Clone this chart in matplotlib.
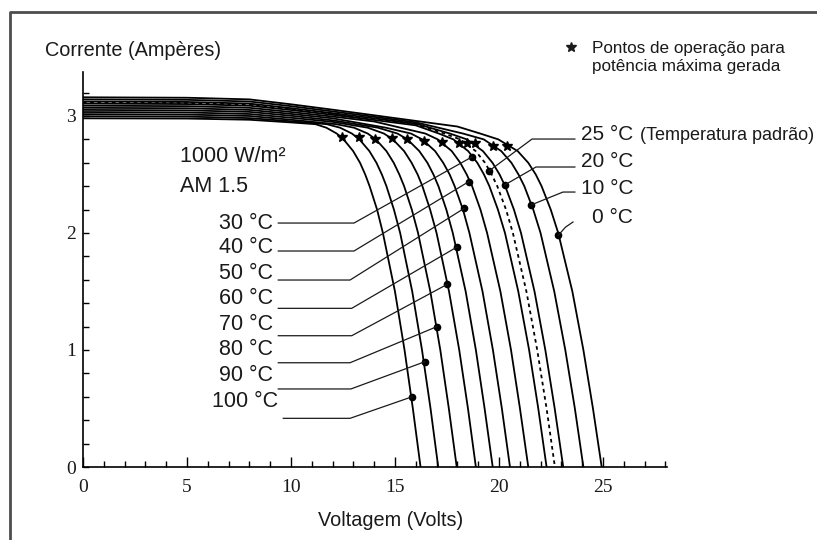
import numpy as np
import matplotlib
matplotlib.use('Agg')
import matplotlib.pyplot as plt
from matplotlib.lines import Line2D

nan = np.nan

''' Data read from the chart '''
temps = [100, 90, 80, 70, 60, 50, 40, 30, 25, 20, 10, 0]

# upper (almost flat) part of each curve: current [A] at these voltages
top_volts = [0, 5, 8, 10, 12, 14, 16, 18]
amps_100 = [2.980, 2.978, 2.968, 2.945, nan, nan, nan, nan]
amps_90 = [2.998, 2.995, 2.982, 2.955, nan, nan, nan, nan]
amps_80 = [3.016, 3.012, 3.000, 2.968, nan, nan, nan, nan]
amps_70 = [3.034, 3.030, 3.017, 2.985, 2.950, nan, nan, nan]
amps_60 = [3.052, 3.048, 3.035, 3.002, 2.963, nan, nan, nan]
amps_50 = [3.070, 3.066, 3.052, 3.018, 2.980, nan, nan, nan]
amps_40 = [3.088, 3.084, 3.070, 3.034, 2.995, 2.953, nan, nan]
amps_30 = [3.106, 3.102, 3.088, 3.051, 3.010, 2.966, 2.920, nan]
amps_25 = [3.115, 3.111, 3.097, 3.059, 3.017, 2.973, 2.929, nan]
amps_20 = [3.124, 3.120, 3.106, 3.067, 3.024, 2.980, 2.935, nan]
amps_10 = [3.142, 3.138, 3.124, 3.084, 3.039, 2.993, 2.946, nan]
amps_0 = [3.160, 3.156, 3.142, 3.100, 3.054, 3.006, 2.958, 2.910]

# falling part of each curve: voltage [V] at these currents
knee_amps = [2.93, 2.9, 2.85, 2.8, 2.7, 2.6, 2.5, 2.4, 2.2, 2.0, 1.5, 1.0, 0.5, 0.0]
volts_100 = [11.18, 11.70, 12.20, 12.53, 12.99, 13.32, 13.57, 13.78, 14.14, 14.42, 15.00, 15.46, 15.86, 16.23]
volts_90 = [11.72, 12.36, 12.93, 13.29, 13.77, 14.11, 14.37, 14.59, 14.95, 15.25, 15.83, 16.30, 16.71, 17.08]
volts_80 = [12.17, 13.03, 13.69, 14.08, 14.59, 14.94, 15.21, 15.44, 15.81, 16.11, 16.70, 17.18, 17.59, 17.97]
volts_70 = [nan, 13.69, 14.47, 14.90, 15.44, 15.80, 16.09, 16.32, 16.69, 17.00, 17.60, 18.09, 18.51, 18.89]
volts_60 = [nan, 14.18, 15.12, 15.60, 16.17, 16.56, 16.85, 17.09, 17.47, 17.78, 18.40, 18.89, 19.31, 19.70]
volts_50 = [nan, 14.56, 15.77, 16.31, 16.93, 17.32, 17.63, 17.87, 18.27, 18.58, 19.21, 19.71, 20.14, 20.53]
volts_40 = [nan, nan, 16.46, 17.06, 17.73, 18.14, 18.45, 18.71, 19.11, 19.43, 20.07, 20.58, 21.01, 21.41]
volts_30 = [nan, nan, 17.11, 17.81, 18.52, 18.96, 19.28, 19.54, 19.95, 20.29, 20.93, 21.45, 21.89, 22.29]
volts_25 = [nan, nan, 17.38, 18.13, 18.88, 19.33, 19.65, 19.92, 20.34, 20.67, 21.32, 21.84, 22.29, 22.69]
volts_20 = [nan, nan, 17.64, 18.46, 19.23, 19.69, 20.03, 20.30, 20.72, 21.06, 21.71, 22.23, 22.68, 23.09]
volts_10 = [nan, nan, 18.27, 19.27, 20.11, 20.60, 20.94, 21.22, 21.65, 22.00, 22.66, 23.19, 23.65, 24.06]
volts_0 = [nan, nan, 19.10, 19.97, 20.90, 21.41, 21.77, 22.05, 22.49, 22.85, 23.53, 24.06, 24.52, 24.94]

# maximum power points (stars), same order as temps
star_volts = [12.44, 13.28, 14.04, 14.84, 15.59, 16.39, 17.24, 18.09, 18.45, 18.85, 19.70, 20.40]
star_amps = [2.82, 2.82, 2.80, 2.81, 2.80, 2.79, 2.78, 2.77, 2.77, 2.77, 2.74, 2.74]

# points where the label leaders touch the curves, same order as temps
dot_volts = [15.82, 16.44, 17.02, 17.50, 17.98, 18.32, 18.56, 18.70, 19.52, 20.27, 21.55, 22.85]
dot_amps = [0.60, 0.90, 1.20, 1.56, 1.88, 2.21, 2.44, 2.65, 2.53, 2.41, 2.24, 1.98]

left_temps = [30, 40, 50, 60, 70, 80, 90, 100]
right_temps = [25, 20, 10, 0]

''' Layout of the labels '''
left_text_y = [2.085, 1.872, 1.658, 1.436, 1.222, 1.000, 0.786, 0.564]
left_line_y = [2.085, 1.846, 1.598, 1.356, 1.122, 0.891, 0.667, 0.416]
left_line_x1 = [13.03, 13.03, 12.84, 12.92, 12.92, 12.84, 12.88, 12.84]
right_text_y = [2.846, 2.609, 2.382, 2.132]
right_leaders = [
    ([23.65, 21.59], [2.803, 2.803]),
    ([23.65, 21.78], [2.564, 2.564]),
    ([23.65, 23.08], [2.350, 2.350]),
    ([23.56, 23.20], [2.094, 2.050]),
]

sans = 'Liberation Sans'
serif = 'Liberation Serif'
ink = '#1a1a1a'

fig = plt.figure(figsize=(8.17, 5.40), dpi=100)
fig.patch.set_facecolor('white')
ax = fig.add_axes([83 / 817, 73 / 540, 584 / 817, 395 / 540])
ax.set_xlim(0, 28.08)
ax.set_ylim(0, 3.376)

''' Curves '''
curves = [
    (100, amps_100, volts_100), (90, amps_90, volts_90), (80, amps_80, volts_80),
    (70, amps_70, volts_70), (60, amps_60, volts_60), (50, amps_50, volts_50),
    (40, amps_40, volts_40), (30, amps_30, volts_30), (25, amps_25, volts_25),
    (20, amps_20, volts_20), (10, amps_10, volts_10), (0, amps_0, volts_0),
]
for temp, top, knee in curves:
    tv = np.array(top_volts, dtype=float)
    ta = np.array(top, dtype=float)
    kv = np.array(knee, dtype=float)
    ka = np.array(knee_amps, dtype=float)
    m1 = ~np.isnan(ta)
    m2 = ~np.isnan(kv)
    v = np.concatenate([tv[m1], kv[m2]])
    i = np.concatenate([ta[m1], ka[m2]])
    if temp == 25:
        ax.plot(v, i, color='black', lw=1.3, linestyle=(0, (2, 2)))
    else:
        ax.plot(v, i, color='black', lw=1.3, solid_joinstyle='round')

ax.plot(star_volts, star_amps, linestyle='none', marker='*', ms=7, color='black')
ax.plot(dot_volts, dot_amps, linestyle='none', marker='o', ms=4.5, color='black')

''' Left labels with leaders '''
for k, t in enumerate(left_temps):
    d = temps.index(t)
    x0 = 9.63 if t == 100 else 9.39
    xt = 9.37 if t == 100 else 9.14
    ax.text(xt, left_text_y[k], f'{t} °C', ha='right', va='center', fontsize=15.5,
            family=sans, color=ink)
    ax.plot([x0, left_line_x1[k], dot_volts[d]],
            [left_line_y[k], left_line_y[k], dot_amps[d]], color=ink, lw=0.9)

''' Right labels with leaders '''
for k, t in enumerate(right_temps):
    d = temps.index(t)
    ax.text(26.45, right_text_y[k], f'{t} °C', ha='right', va='center', fontsize=15,
            family=sans, color=ink)
    xs, ys = right_leaders[k]
    ax.plot(xs + [dot_volts[d]], ys + [dot_amps[d]], color=ink, lw=0.9)
ax.text(26.78, 2.83, '(Temperatura padrão)', ha='left', va='center', fontsize=13,
        family=sans, color=ink, clip_on=False)

ax.text(4.66, 2.65, '1000 W/m²', ha='left', va='center', fontsize=15.5,
        family=sans, color=ink)
ax.text(4.66, 2.40, 'AM 1.5', ha='left', va='center', fontsize=15.5,
        family=sans, color=ink)

''' Axes '''
for side in ['top', 'right']:
    ax.spines[side].set_visible(False)
for side in ['left', 'bottom']:
    ax.spines[side].set_linewidth(1.2)
ax.set_xticks([0, 5, 10, 15, 20, 25])
ax.set_xticks(np.arange(0, 29, 1), minor=True)
ax.set_yticks([0, 1, 2, 3])
ax.set_yticks(np.arange(0, 3.3, 0.2), minor=True)
ax.tick_params(axis='x', which='major', direction='in', length=7, width=1, pad=9)
ax.tick_params(axis='x', which='minor', direction='in', length=4, width=1)
ax.tick_params(axis='y', which='major', direction='in', length=4, width=1, pad=5)
ax.tick_params(axis='y', which='minor', direction='in', length=4, width=1)
for lab in ax.get_xticklabels() + ax.get_yticklabels():
    lab.set_family(serif)
    lab.set_fontsize(14)
    lab.set_color(ink)

fig.text(45 / 817, 1 - 50 / 540, 'Corrente (Ampères)', ha='left', va='center',
         fontsize=14.3, family=sans, color=ink)
fig.text(391 / 817, 1 - 520 / 540, 'Voltagem (Volts)', ha='center', va='center',
         fontsize=14.3, family=sans, color=ink)

# star of the note
fig.add_artist(Line2D([571 / 817], [1 - 47 / 540], transform=fig.transFigure,
                      marker='*', ms=7, color=ink, linestyle='none'))
fig.text(592 / 817, 1 - 48 / 540, 'Pontos de operação para', ha='left', va='center',
         fontsize=12.3, family=sans, color=ink)
fig.text(592 / 817, 1 - 67 / 540, 'potência máxima gerada', ha='left', va='center',
         fontsize=12.3, family=sans, color=ink)

# grey frame of the scanned figure
fig.add_artist(Line2D([10 / 817, 10 / 817, 1], [0, 1 - 12 / 540, 1 - 12 / 540],
                      transform=fig.transFigure, color='#4d4d4d', lw=2))

fig.savefig('out.png', dpi=100)
